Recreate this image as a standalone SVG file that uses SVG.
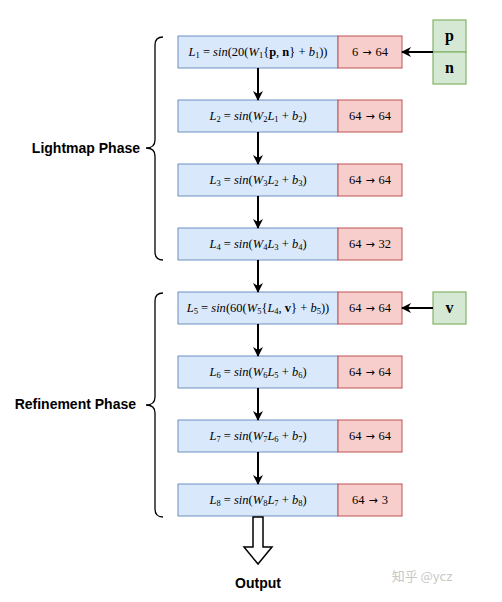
<svg xmlns="http://www.w3.org/2000/svg" width="502" height="602" viewBox="0 0 502 602">
<style>
.bl{fill:#dae8fc;stroke:#6c8ebf;stroke-width:1}
.rd{fill:#f8cecc;stroke:#b85450;stroke-width:1}
.gr{fill:#d5e8d4;stroke:#82b366;stroke-width:1.2}
.m{font-family:"Liberation Serif","Times New Roman",serif;font-size:12.5px;fill:#000;text-anchor:middle}
.i{font-style:italic}
.b{font-weight:bold}
.s{font-size:8.5px}
.a{font-family:"DejaVu Sans",sans-serif;font-size:11px}
.lab{font-family:"Liberation Sans",Arial,sans-serif;font-size:14px;font-weight:bold;fill:#000}
.g{font-family:"Liberation Serif",serif;font-size:16px;font-weight:bold;fill:#000;text-anchor:middle}
.ln{stroke:#000;stroke-width:2;fill:none}
.br{stroke:#000;stroke-width:1.3;fill:none}
</style>
<defs>
<marker id="ah" viewBox="0 0 10 10" refX="9" refY="5" markerWidth="10" markerHeight="10" markerUnits="userSpaceOnUse" orient="auto"><path d="M0,0 L10,5 L0,10 L3,5 Z" fill="#000"/></marker>
</defs>
<rect width="502" height="602" fill="#fff"/>

<g id="n1"><rect class="bl" x="178" y="36" width="160" height="32"/><rect class="rd" x="338" y="36" width="64" height="32"/>
<text class="m" x="258" y="56"><tspan class="i">L</tspan><tspan class="s" dy="2">1</tspan><tspan dy="-2"> = </tspan><tspan class="i">sin</tspan>(20(<tspan class="i">W</tspan><tspan class="s" dy="2">1</tspan><tspan dy="-2">{</tspan><tspan class="b">p</tspan>, <tspan class="b">n</tspan>} + <tspan class="i">b</tspan><tspan class="s" dy="2">1</tspan><tspan dy="-2">))</tspan></text>
<text class="m" x="370" y="56">6<tspan class="a" dx="4">→</tspan><tspan dx="4">64</tspan></text></g>

<g id="n2"><rect class="bl" x="178" y="100" width="160" height="32"/><rect class="rd" x="338" y="100" width="64" height="32"/>
<text class="m" x="258" y="120"><tspan class="i">L</tspan><tspan class="s" dy="2">2</tspan><tspan dy="-2"> = </tspan><tspan class="i">sin</tspan>(<tspan class="i">W</tspan><tspan class="s" dy="2">2</tspan><tspan class="i" dy="-2">L</tspan><tspan class="s" dy="2">1</tspan><tspan dy="-2"> + </tspan><tspan class="i">b</tspan><tspan class="s" dy="2">2</tspan><tspan dy="-2">)</tspan></text>
<text class="m" x="370" y="120">64<tspan class="a" dx="4">→</tspan><tspan dx="4">64</tspan></text></g>

<g id="n3"><rect class="bl" x="178" y="164" width="160" height="32"/><rect class="rd" x="338" y="164" width="64" height="32"/>
<text class="m" x="258" y="184"><tspan class="i">L</tspan><tspan class="s" dy="2">3</tspan><tspan dy="-2"> = </tspan><tspan class="i">sin</tspan>(<tspan class="i">W</tspan><tspan class="s" dy="2">3</tspan><tspan class="i" dy="-2">L</tspan><tspan class="s" dy="2">2</tspan><tspan dy="-2"> + </tspan><tspan class="i">b</tspan><tspan class="s" dy="2">3</tspan><tspan dy="-2">)</tspan></text>
<text class="m" x="370" y="184">64<tspan class="a" dx="4">→</tspan><tspan dx="4">64</tspan></text></g>

<g id="n4"><rect class="bl" x="178" y="228" width="160" height="32"/><rect class="rd" x="338" y="228" width="64" height="32"/>
<text class="m" x="258" y="248"><tspan class="i">L</tspan><tspan class="s" dy="2">4</tspan><tspan dy="-2"> = </tspan><tspan class="i">sin</tspan>(<tspan class="i">W</tspan><tspan class="s" dy="2">4</tspan><tspan class="i" dy="-2">L</tspan><tspan class="s" dy="2">3</tspan><tspan dy="-2"> + </tspan><tspan class="i">b</tspan><tspan class="s" dy="2">4</tspan><tspan dy="-2">)</tspan></text>
<text class="m" x="370" y="248">64<tspan class="a" dx="4">→</tspan><tspan dx="4">32</tspan></text></g>

<g id="n5"><rect class="bl" x="178" y="292" width="160" height="32"/><rect class="rd" x="338" y="292" width="64" height="32"/>
<text class="m" x="258" y="312"><tspan class="i">L</tspan><tspan class="s" dy="2">5</tspan><tspan dy="-2"> = </tspan><tspan class="i">sin</tspan>(60(<tspan class="i">W</tspan><tspan class="s" dy="2">5</tspan><tspan dy="-2">{</tspan><tspan class="i">L</tspan><tspan class="s" dy="2">4</tspan><tspan dy="-2">, </tspan><tspan class="b">v</tspan>} + <tspan class="i">b</tspan><tspan class="s" dy="2">5</tspan><tspan dy="-2">))</tspan></text>
<text class="m" x="370" y="312">64<tspan class="a" dx="4">→</tspan><tspan dx="4">64</tspan></text></g>

<g id="n6"><rect class="bl" x="178" y="356" width="160" height="32"/><rect class="rd" x="338" y="356" width="64" height="32"/>
<text class="m" x="258" y="376"><tspan class="i">L</tspan><tspan class="s" dy="2">6</tspan><tspan dy="-2"> = </tspan><tspan class="i">sin</tspan>(<tspan class="i">W</tspan><tspan class="s" dy="2">6</tspan><tspan class="i" dy="-2">L</tspan><tspan class="s" dy="2">5</tspan><tspan dy="-2"> + </tspan><tspan class="i">b</tspan><tspan class="s" dy="2">6</tspan><tspan dy="-2">)</tspan></text>
<text class="m" x="370" y="376">64<tspan class="a" dx="4">→</tspan><tspan dx="4">64</tspan></text></g>

<g id="n7"><rect class="bl" x="178" y="420" width="160" height="32"/><rect class="rd" x="338" y="420" width="64" height="32"/>
<text class="m" x="258" y="440"><tspan class="i">L</tspan><tspan class="s" dy="2">7</tspan><tspan dy="-2"> = </tspan><tspan class="i">sin</tspan>(<tspan class="i">W</tspan><tspan class="s" dy="2">7</tspan><tspan class="i" dy="-2">L</tspan><tspan class="s" dy="2">6</tspan><tspan dy="-2"> + </tspan><tspan class="i">b</tspan><tspan class="s" dy="2">7</tspan><tspan dy="-2">)</tspan></text>
<text class="m" x="370" y="440">64<tspan class="a" dx="4">→</tspan><tspan dx="4">64</tspan></text></g>

<g id="n8"><rect class="bl" x="178" y="484" width="160" height="32"/><rect class="rd" x="338" y="484" width="64" height="32"/>
<text class="m" x="258" y="504"><tspan class="i">L</tspan><tspan class="s" dy="2">8</tspan><tspan dy="-2"> = </tspan><tspan class="i">sin</tspan>(<tspan class="i">W</tspan><tspan class="s" dy="2">8</tspan><tspan class="i" dy="-2">L</tspan><tspan class="s" dy="2">7</tspan><tspan dy="-2"> + </tspan><tspan class="i">b</tspan><tspan class="s" dy="2">8</tspan><tspan dy="-2">)</tspan></text>
<text class="m" x="370" y="504">64<tspan class="a" dx="4">→</tspan><tspan dx="4">3</tspan></text></g>

<g id="in-pn"><rect class="gr" x="433" y="20" width="33" height="32"/><rect class="gr" x="433" y="52" width="33" height="32"/>
<text class="g" x="449.5" y="41">p</text><text class="g" x="449.5" y="73">n</text></g>

<g id="in-v"><rect class="gr" x="433" y="292" width="33" height="32"/><text class="g" x="449.5" y="313">v</text></g>

<g id="lightmap"><path class="br" d="M163,37 Q155,37 155,45 L155,140 Q155,148 146,148 Q155,148 155,156 L155,252 Q155,260 163,260"/>
<text class="lab" x="140" y="153" text-anchor="end">Lightmap Phase</text></g>

<g id="refinement"><path class="br" d="M163,293 Q155,293 155,301 L155,397 Q155,405 146,405 Q155,405 155,413 L155,509 Q155,517 163,517"/>
<text class="lab" x="136" y="409" text-anchor="end">Refinement Phase</text></g>

<g id="connectors">
<line class="ln" x1="258" y1="68" x2="258" y2="100" marker-end="url(#ah)"/>
<line class="ln" x1="258" y1="132" x2="258" y2="164" marker-end="url(#ah)"/>
<line class="ln" x1="258" y1="196" x2="258" y2="228" marker-end="url(#ah)"/>
<line class="ln" x1="258" y1="260" x2="258" y2="292" marker-end="url(#ah)"/>
<line class="ln" x1="258" y1="324" x2="258" y2="356" marker-end="url(#ah)"/>
<line class="ln" x1="258" y1="388" x2="258" y2="420" marker-end="url(#ah)"/>
<line class="ln" x1="258" y1="452" x2="258" y2="484" marker-end="url(#ah)"/>
<line class="ln" x1="433" y1="52" x2="402" y2="52" marker-end="url(#ah)"/>
<line class="ln" x1="433" y1="308" x2="402" y2="308" marker-end="url(#ah)"/>
<path d="M253,517 L263,517 L263,547 L272,547 L258,564 L244,547 L253,547 Z" fill="#fff" stroke="#000" stroke-width="1.5" stroke-linejoin="miter"/>
</g>

<g id="output"><text class="lab" x="258" y="588" text-anchor="middle">Output</text></g>
<text x="422" y="581" text-anchor="middle" font-family="'Noto Sans CJK SC',sans-serif" font-size="13" fill="#c8c8c8">知乎 @ycz</text>
</svg>
